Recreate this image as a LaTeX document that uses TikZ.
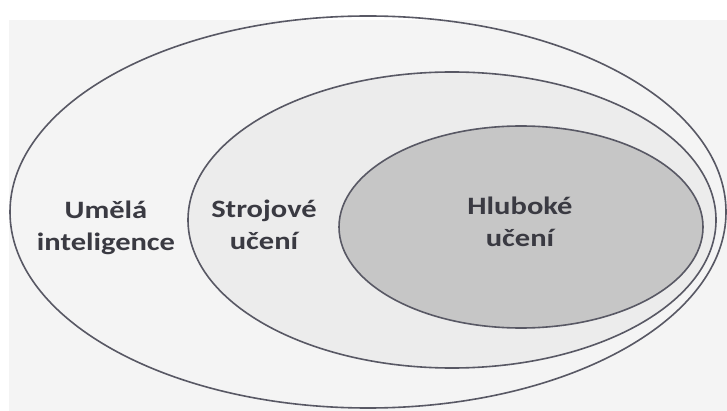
\documentclass[tikz,border=0pt]{standalone}
\usepackage{fontspec}
\setmainfont{Carlito}
\newfontfamily\labelface{Carlito}[FakeStretch=1.22]
\usepackage{xcolor}
\definecolor{scanbg}{RGB}{244,244,244}
\definecolor{mlgray}{RGB}{236,236,236}
\definecolor{dlgray}{RGB}{198,198,198}
\definecolor{rimgray}{RGB}{88,88,100}
\definecolor{inkgray}{RGB}{58,58,66}
\tikzset{%
    rim/.style={draw=rimgray, line width=1.6pt},
    setlabel/.style={font={\labelface\fontsize{25}{32}\selectfont\bfseries}, text=inkgray, align=center}
}

\begin{document}
\begin{tikzpicture}[x=1pt,y=-1pt]
\useasboundingbox (0,0) rectangle (727,411);
\fill[scanbg] (9,20) rectangle (727,411);

\draw[rim] (368,212) ellipse (358 and 196);
\filldraw[rim, fill=mlgray] (452,220) ellipse (264 and 148);
\filldraw[rim, fill=dlgray] (521,227) ellipse (182 and 101);

\node[setlabel] (ai) at (106,228) {Umělá\\inteligence};
\node[setlabel] (ml) at (264,225) {Strojové\\učení};
\node[setlabel] (dl) at (520,222) {Hluboké\\učení};
\end{tikzpicture}
\end{document}
